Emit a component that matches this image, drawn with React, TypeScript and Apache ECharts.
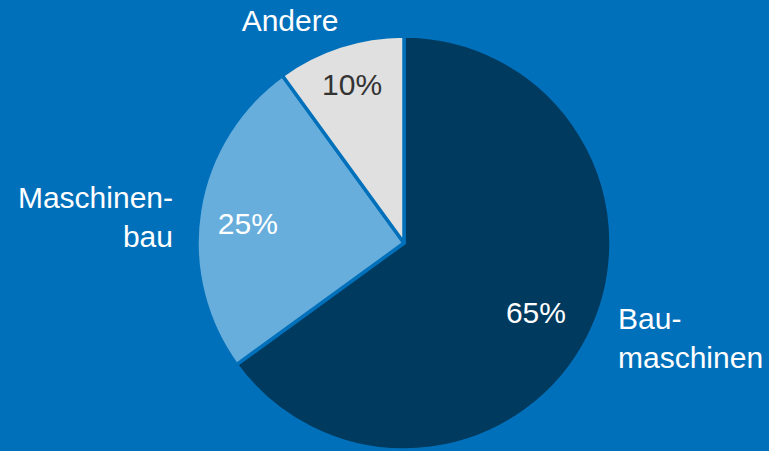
import React, { useEffect, useRef } from "react";
import * as echarts from "echarts";

const categories = ["Bau-\nmaschinen", "Maschinen-\nbau", "Andere"];
const values = [65, 25, 10];
const sliceColors = ["#003A5E", "#67AEDD", "#E0E0E0"];
const pctColors = ["#FFFFFF", "#FFFFFF", "#333333"];

// label placement (style only)
const pctShift = [
  [37, 21],
  [-51, -3],
  [-19, -57],
];
const namePos = [
  { x: 618, y: 338, align: "left" },
  { x: 173, y: 217, align: "right" },
  { x: 290, y: 20, align: "center" },
];

const BG = "#0070BB";
const FONT = "'Liberation Sans', Arial, Helvetica, sans-serif";

export default function App() {
  const ref = useRef<HTMLDivElement>(null);
  useEffect(() => {
    if (!ref.current) return;
    const chart = echarts.init(ref.current, undefined, { renderer: "svg" });
    const data = categories.map((name, i) => ({
      name,
      value: values[i],
      itemStyle: { color: sliceColors[i] },
      label: { color: pctColors[i] },
    }));
    chart.setOption({
      animation: false,
      backgroundColor: BG,
      series: [
        {
          type: "pie",
          center: [404, 243],
          radius: 207,
          startAngle: 90,
          clockwise: true,
          data,
          itemStyle: { borderColor: BG, borderWidth: 3.5 },
          label: {
            show: true,
            position: "inside",
            formatter: "{d}%",
            fontFamily: FONT,
            fontSize: 30,
            overflow: "none",
          },
          labelLine: { show: false },
          labelLayout: (p: any) => ({
            dx: pctShift[p.dataIndex][0],
            dy: pctShift[p.dataIndex][1],
          }),
          emphasis: { disabled: true },
        },
        {
          type: "pie",
          center: [404, 243],
          radius: 207,
          startAngle: 90,
          clockwise: true,
          silent: true,
          data: categories.map((name, i) => ({ name, value: values[i] })),
          itemStyle: { color: "rgba(0,0,0,0)", borderWidth: 0 },
          label: {
            show: true,
            position: "outside",
            alignTo: "none",
            formatter: "{b}",
            color: "#FFFFFF",
            fontFamily: FONT,
            fontSize: 30,
            lineHeight: 39,
            overflow: "none",
            width: 300,
          },
          labelLine: { show: false },
          labelLayout: (p: any) => ({
            x: namePos[p.dataIndex].x,
            y: namePos[p.dataIndex].y,
            align: namePos[p.dataIndex].align,
            verticalAlign: "middle",
          }),
          emphasis: { disabled: true },
        },
      ],
    });
    return () => chart.dispose();
  }, []);
  return (
    <div
      ref={ref}
      style={{ position: "fixed", left: 0, top: 0, width: 769, height: 451 }}
    />
  );
}
